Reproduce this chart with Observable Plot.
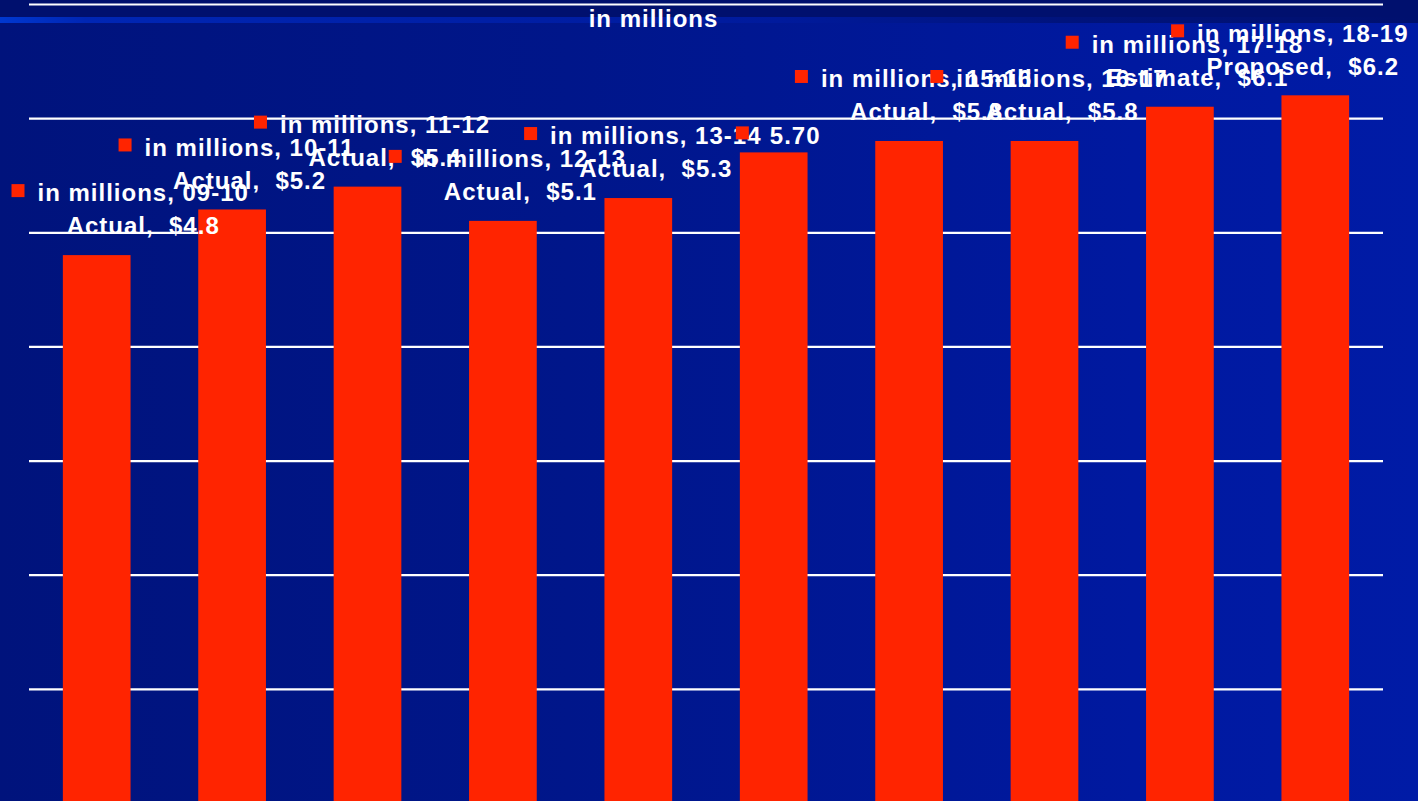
<!DOCTYPE html>
<html><head><meta charset="utf-8">
<script src="https://cdn.jsdelivr.net/npm/d3@7"></script>
<script src="https://cdn.jsdelivr.net/npm/@observablehq/plot@0.6"></script>
<style>
html,body{margin:0;padding:0;}
body{width:1418px;height:801px;overflow:hidden;position:relative;
  background:linear-gradient(90deg,#00137c 0%,#00168a 40%,#0019a0 80%,#001ba6 100%);}
#band{position:absolute;left:0;top:0;width:1418px;height:17px;background:#00106e;}
#stripe{position:absolute;left:0;top:17px;width:1418px;height:6px;
  background:linear-gradient(90deg,#0038d0 0%,#0026b4 6%,#0020a8 30%,#001a9c 55%,#00137c 75%,#00106e 100%);}
#chart{position:absolute;left:0;top:0;}
</style></head><body>
<div id="band"></div><div id="stripe"></div><div id="chart"></div>
<script>
const seriesName = "in millions";
const years = ["09-10","10-11","11-12","12-13","13-14","14-15","15-16","16-17","17-18","18-19"];
const values = [4.8, 5.2, 5.4, 5.1, 5.3, 5.7, 5.8, 5.8, 6.1, 6.2];
const labelTop = ["in millions, 09-10","in millions, 10-11","in millions, 11-12","in millions, 12-13","in millions, 13-14","5.70","in millions, 15-16","in millions, 16-17","in millions, 17-18","in millions, 18-19"];
const labelBottom = ["Actual,  $4.8","Actual,  $5.2","Actual,  $5.4","Actual,  $5.1","Actual,  $5.3","","Actual,  $5.8","Actual,  $5.8","Estimate,  $6.1","Proposed,  $6.2"];
const gridValues = [1, 2, 3, 4, 5, 6, 7];

const W = 1418, H = 801;
const mL = 29, mR = 35, mT = 4, mB = -2;
const FONT = "'Liberation Sans', Arial, sans-serif";
const FS = 24, LS = 1;
const RED = "#ff2400";

const data = years.map((y, i) => ({year: y, value: values[i], top: labelTop[i], bottom: labelBottom[i]}));

const xOpts = {type: "band", domain: years, paddingInner: 0.5, paddingOuter: 0.25, align: 0.5, round: false};
const xs = Plot.scale({x: {...xOpts, range: [mL, W - mR]}});
const ctx = document.createElement("canvas").getContext("2d");
ctx.font = `bold ${FS}px ${FONT}`;
const measure = s => ctx.measureText(s).width + LS * s.length;

const marks = [
  Plot.ruleY(gridValues, {stroke: "#ffffff", strokeWidth: 2.2}),
  Plot.barY(data, {x: "year", y: "value", fill: RED}),
  Plot.text([seriesName], {frameAnchor: "top", dx: -53, dy: 15, fill: "white", fontSize: FS, fontWeight: "bold", lineAnchor: "middle"})
];

data.forEach(d => {
  const cx = xs.apply(d.year) + xs.bandwidth / 2;
  const w1 = measure(d.top);
  const hasBottom = d.bottom.length > 0;
  const gap = hasBottom ? 26 : 34;
  const bw = gap + w1;
  let left = cx + 4 - bw / 2;
  left = Math.max(11, Math.min(left, W - 10 - bw));
  const topDy = hasBottom ? -62 : -17;
  marks.push(Plot.dot([d], {x: "year", y: "value", dx: left + 6.5 - cx, dy: topDy - 3, symbol: "square", r: 13 / Math.sqrt(Math.PI), fill: RED, stroke: "none"}));
  marks.push(Plot.text([d], {x: "year", y: "value", text: "top", dx: left + gap - cx, dy: topDy, textAnchor: "start", lineAnchor: "middle", fill: "white", fontSize: FS, fontWeight: "bold"}));
  if (hasBottom) {
    marks.push(Plot.text([d], {x: "year", y: "value", text: "bottom", dx: left + gap + w1 / 2 - cx, dy: -29, textAnchor: "middle", lineAnchor: "middle", fill: "white", fontSize: FS, fontWeight: "bold"}));
  }
});

const chart = Plot.plot({
  width: W, height: H,
  marginLeft: mL, marginRight: mR, marginTop: mT, marginBottom: mB,
  x: {...xOpts, axis: null},
  y: {domain: [0, 7], axis: null},
  style: {background: "transparent", fontFamily: FONT, letterSpacing: LS + "px", whiteSpace: "pre", overflow: "visible"},
  marks
});
document.getElementById("chart").appendChild(chart);
</script>
</body></html>
